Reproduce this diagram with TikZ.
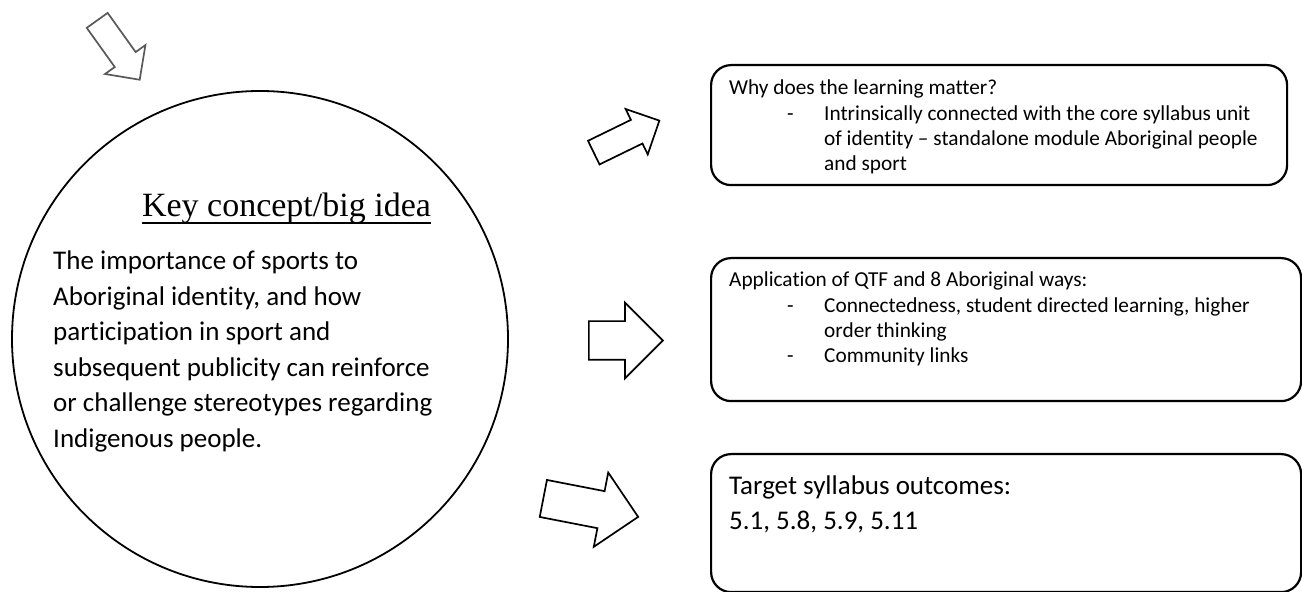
\documentclass[tikz,border=0pt]{standalone}
\usepackage{fontspec}
\setmainfont{Carlito}[Ligatures=NoCommon]
\newfontfamily\titlefont{Liberation Serif}
\usetikzlibrary{positioning,shapes.arrows}
\newcommand{\textLines}[1]{\vtop{\halign{##\hfil\cr#1\crcr}}}

\begin{document}
\begin{tikzpicture}[x=1pt, y=1pt,
    ideaCircle/.style={circle, draw=black, line width=1.8pt, minimum size=496pt, inner sep=0pt},
    infoBox/.style={rectangle, rounded corners=20pt, draw=black, line width=2.2pt, inner sep=0pt, anchor=north west},
    smallText/.style={anchor=base west, inner sep=0pt, font=\fontsize{21.3}{25.3}\selectfont},
    bodyText/.style={anchor=base west, inner sep=0pt, font=\fontsize{27}{35.5}\selectfont},
    blockArrow/.style={single arrow, draw=black, line width=1.7pt, fill=white, anchor=tail, inner xsep=0pt, minimum width=0pt}
]
    \useasboundingbox (0,0) rectangle (1302,592);

    \node[ideaCircle] (idea) at (260,253) {};
    \node[anchor=base, inner sep=0pt, font=\titlefont\fontsize{34}{38}\selectfont] (ideaTitle) at (286.5,375) {Key concept/big idea};
    \draw[line width=1.4pt] ([yshift=-6pt]ideaTitle.base west) -- ([yshift=-6pt]ideaTitle.base east);
    \node[bodyText] (ideaText) at (53,322) {\textLines{The importance of sports to\cr
        Aboriginal identity, and how\cr
        participation in sport and\cr
        subsequent publicity can reinforce\cr
        or challenge stereotypes regarding\cr
        Indigenous people.}};

    \node[infoBox, minimum width=576pt, minimum height=120pt] (whyBox) at (710,528) {};
    \node[smallText] (whyText) at ([xshift=19pt, yshift=-31pt]whyBox.north west) {\textLines{Why does the learning matter?\cr
        \hspace*{58pt}\makebox[37pt][l]{-}Intrinsically connected with the core syllabus unit\cr
        \hspace*{95pt}of identity – standalone module Aboriginal people\cr
        \hspace*{95pt}and sport}};

    \node[infoBox, minimum width=590pt, minimum height=143pt] (waysBox) at (710,335) {};
    \node[smallText] (waysText) at ([xshift=19pt, yshift=-30pt]waysBox.north west) {\textLines{Application of QTF and 8 Aboriginal ways:\cr
        \hspace*{58pt}\makebox[37pt][l]{-}Connectedness, student directed learning, higher\cr
        \hspace*{95pt}order thinking\cr
        \hspace*{58pt}\makebox[37pt][l]{-}Community links}};

    \node[infoBox, minimum width=590pt, minimum height=138pt] (outcomeBox) at (710,139) {};
    \node[bodyText, font=\fontsize{27}{35}\selectfont] (outcomeText) at ([xshift=19pt, yshift=-42pt]outcomeBox.north west) {\textLines{Target syllabus outcomes:\cr
        5.1, 5.8, 5.9, 5.11}};

    \node[blockArrow, draw=black!65, rotate=-54.4, minimum height=73pt, inner ysep=12pt, single arrow head extend=12pt] (cornerArrow) at (96.7,572.3) {};
    \node[blockArrow, rotate=26, minimum height=73pt, inner ysep=12.3pt, single arrow head extend=12.1pt] (whyArrow) at (593,439) {};
    \node[blockArrow, minimum height=74pt, inner ysep=18.5pt, single arrow head extend=18.5pt] (waysArrow) at (588,251.5) {};
    \node[blockArrow, rotate=-11, minimum height=96.6pt, inner ysep=18pt, single arrow head extend=19pt] (outcomeArrow) at (542.5,93.7) {};
\end{tikzpicture}
\end{document}
